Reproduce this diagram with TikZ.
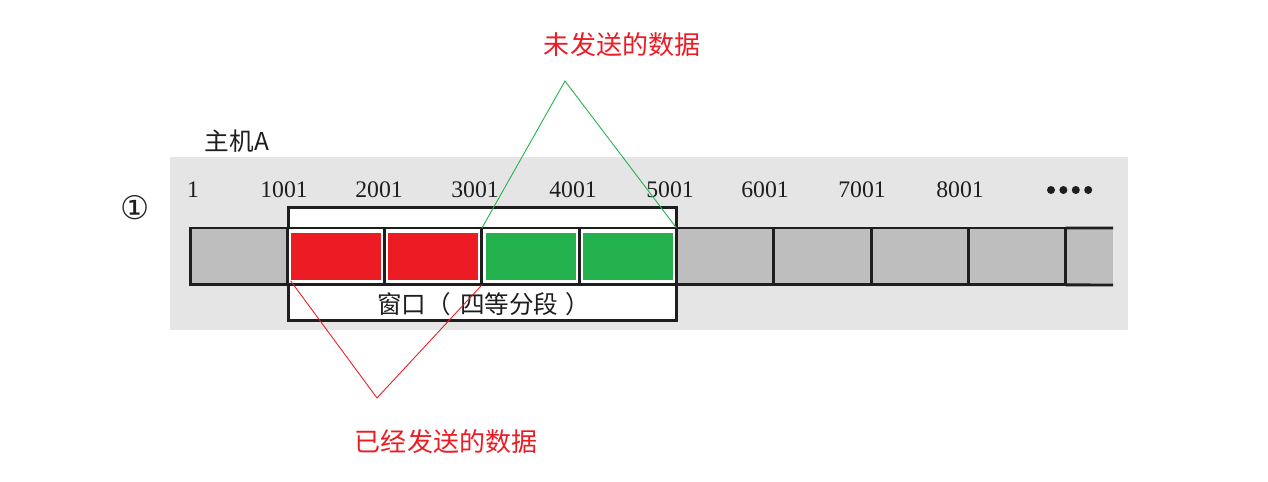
\documentclass[tikz,border=0pt]{standalone}
\usepackage{fontspec}
\setmainfont{Liberation Serif}
\newfontfamily\cjk{Noto Sans CJK SC}
\newfontfamily\symfont{DejaVu Sans}
\usepackage{xcolor}
\usetikzlibrary{positioning}
\definecolor{sentred}{RGB}{237,28,36}
\definecolor{unsentgreen}{RGB}{34,177,76}
\definecolor{bargray}{RGB}{190,190,190}
\definecolor{bggray}{RGB}{229,229,229}
\definecolor{inkgray}{RGB}{30,30,30}
\tikzstyle{every node} = [inner sep=0]

\begin{document}
\begin{tikzpicture}[x=0.02cm, y=-0.02cm,
    cell/.style={draw=inkgray, line width=1.7pt, rectangle, outer sep=0, minimum width=1.946cm, minimum height=1.14cm},
    chunk/.style={rectangle, minimum width=1.8cm, minimum height=0.96cm},
    seqno/.style={text=inkgray, font=\fontsize{13.5}{16}\selectfont},
    note/.style={text=sentred, font=\cjk\fontsize{14.8}{18}\selectfont}]
            \useasboundingbox (0,0) rectangle (1268,482);

            % Scanned background
            \fill[bggray] (170,157) rectangle (1128,330);

            % Window
            \node[draw=inkgray, line width=1.7pt, fill=white, rectangle, minimum width=7.78cm, minimum height=2.28cm] (window) at (482.5,264) {};
            \node[text=inkgray, font=\cjk\fontsize{14}{17}\selectfont, anchor=west] (wlabel) at (377,304) {窗口（\kern0.18cm 四等分段\kern0.14cm ）};

            % Open end of the stream
            \coordinate (tailtop) at (1113,228);
            \coordinate (tailbot) at (1113,285);
            \fill[bargray] (1066,228) rectangle (tailbot);

            % Byte stream cells
            \foreach \i in {0,5,6,7,8}
                \node[cell, fill=bargray] (c\i) at (238.65+97.3*\i, 256.5) {};
            \foreach \i in {1,...,4}
                \node[cell, fill=white] (c\i) at (238.65+97.3*\i, 256.5) {};
            \draw[inkgray, line width=1.7pt] (c8.north east) -- (tailtop);
            \draw[inkgray, line width=1.7pt] (c8.south east) -- (tailbot);

            % Sent and unsent segments
            \foreach \i/\c in {1/sentred, 2/sentred, 3/unsentgreen, 4/unsentgreen}
                \node[chunk, fill=\c] (f\i) at (c\i) {};

            % Sequence numbers
            \foreach \x/\t in {193/1, 284/1001, 379/2001, 475/3001, 573/4001, 670/5001, 765/6001, 862/7001, 960/8001}
                \node[seqno] (n\t) at (\x,190) {\t};
            \foreach \i in {0,...,3}
                \fill[inkgray] (1051+12.4*\i,190) circle (0.08cm);

            % Host and step
            \node[text=inkgray, font=\cjk\fontsize{14}{17}\selectfont] (host) at (237,141) {主机A};
            \node[text=inkgray, font=\symfont\fontsize{18.5}{22}\selectfont] (step) at (135,208) {①};

            % Unsent data
            \node[note] (unsent) at (622,45) {未发送的数据};
            \coordinate (unsentapex) at (565,81);
            \draw[unsentgreen, line width=0.5pt] (c3.north west) -- (unsentapex) -- (c4.north east);

            % Sent data
            \node[note] (sent) at (446,442) {已经发送的数据};
            \coordinate (sentapex) at (377,398);
            \draw[sentred, line width=0.5pt] (f1.south west) -- (sentapex) -- (c2.south east);
        \end{tikzpicture}
\end{document}
